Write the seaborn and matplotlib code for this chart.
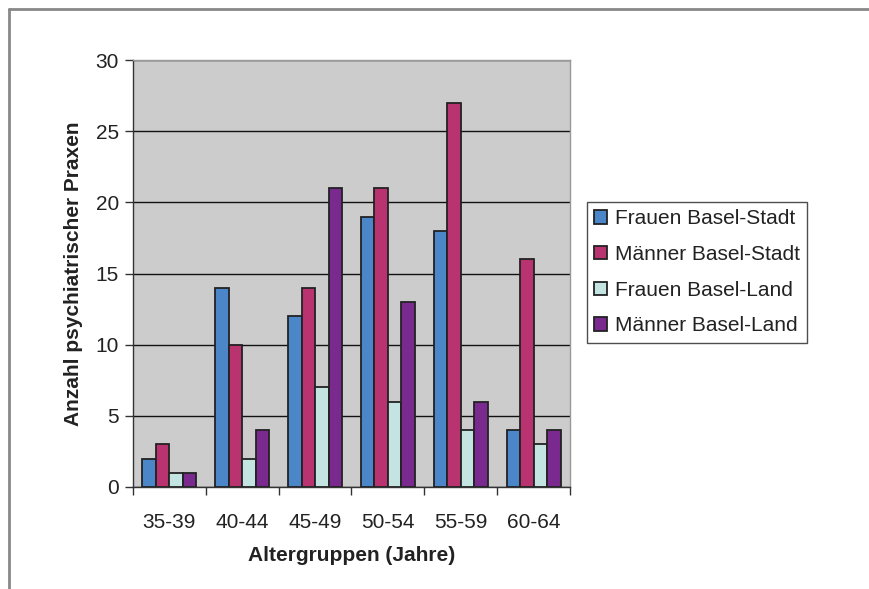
import matplotlib
matplotlib.use("Agg")
import matplotlib.pyplot as plt
from matplotlib.ticker import FixedLocator, NullFormatter
import seaborn as sns
import pandas as pd

# Age groups and counts of psychiatric practices per group
age_groups = ["35-39", "40-44", "45-49", "50-54", "55-59", "60-64"]
series_names = ["Frauen Basel-Stadt", "Männer Basel-Stadt",
                "Frauen Basel-Land", "Männer Basel-Land"]
frauen_stadt = [2, 14, 12, 19, 18, 4]
maenner_stadt = [3, 10, 14, 21, 27, 16]
frauen_land = [1, 2, 7, 6, 4, 3]
maenner_land = [1, 4, 21, 13, 6, 4]
y_ticks = [0, 5, 10, 15, 20, 25, 30]

colors = ["#4a86c8", "#b8336f", "#c4e4e1", "#7a2a8e"]

rows = []
for name, vals in zip(series_names,
                      [frauen_stadt, maenner_stadt, frauen_land, maenner_land]):
    for g, v in zip(age_groups, vals):
        rows.append({"Altergruppe": g, "Gruppe": name, "Anzahl": v})
df = pd.DataFrame(rows)

sns.set_theme(style="white")
plt.rcParams["font.family"] = ["Liberation Sans", "DejaVu Sans"]

fig = plt.figure(figsize=(8.7, 5.89), dpi=100)
ax = fig.add_axes([133 / 870, 1 - 487 / 589, (570 - 133) / 870, (487 - 60) / 589])

sns.barplot(data=df, x="Altergruppe", y="Anzahl", hue="Gruppe",
            order=age_groups, hue_order=series_names, palette=colors,
            width=0.74, edgecolor="#222222", linewidth=1.3,
            saturation=1, ax=ax, zorder=3)

ax.set_facecolor("#cccccc")
ax.set_xlim(-0.5, len(age_groups) - 0.5)
ax.set_ylim(0, 30)
ax.set_yticks(y_ticks)
ax.yaxis.grid(True, color="#111111", linewidth=1.0, zorder=1)
ax.set_axisbelow(True)

# category boundaries carry the tick marks on the x axis
ax.xaxis.set_minor_locator(FixedLocator([i - 0.5 for i in range(len(age_groups) + 1)]))
ax.xaxis.set_minor_formatter(NullFormatter())
ax.tick_params(axis="x", which="major", length=0, pad=19, labelsize=15, colors="#222222")
ax.tick_params(axis="x", which="minor", length=6, width=1, color="#333333", bottom=True)
ax.tick_params(axis="y", which="major", length=6, width=1, color="#333333",
               left=True, labelsize=15, labelcolor="#222222", pad=4)

for side in ["left", "bottom"]:
    ax.spines[side].set_color("#333333")
    ax.spines[side].set_linewidth(1.0)
for side in ["top", "right"]:
    ax.spines[side].set_color("#999999")
    ax.spines[side].set_linewidth(1.0)

ax.set_xlabel("Altergruppen (Jahre)", fontsize=15, fontweight="bold",
              color="#222222", labelpad=10)
ax.set_ylabel("Anzahl psychiatrischer Praxen", fontsize=15, fontweight="bold",
              color="#222222", labelpad=9)

handles, labels = ax.get_legend_handles_labels()
ax.get_legend().remove()
leg = fig.legend(handles, labels, loc="upper left",
                 bbox_to_anchor=(587 / 870, 1 - 202 / 589),
                 fontsize=15, frameon=True, fancybox=False,
                 edgecolor="#222222", handlelength=0.6, handleheight=0.6,
                 handletextpad=0.4, labelspacing=0.8, borderpad=0.35,
                 borderaxespad=0)
leg.get_frame().set_linewidth(1.0)
for t in leg.get_texts():
    t.set_color("#222222")

# outer frame along the top and left of the figure
fig.add_artist(plt.Line2D([9 / 870, 1.0], [1 - 9 / 589, 1 - 9 / 589],
                          transform=fig.transFigure, color="#888888", linewidth=2))
fig.add_artist(plt.Line2D([9 / 870, 9 / 870], [0.0, 1 - 9 / 589],
                          transform=fig.transFigure, color="#888888", linewidth=2))

fig.savefig("out.png", dpi=100, facecolor="white")
